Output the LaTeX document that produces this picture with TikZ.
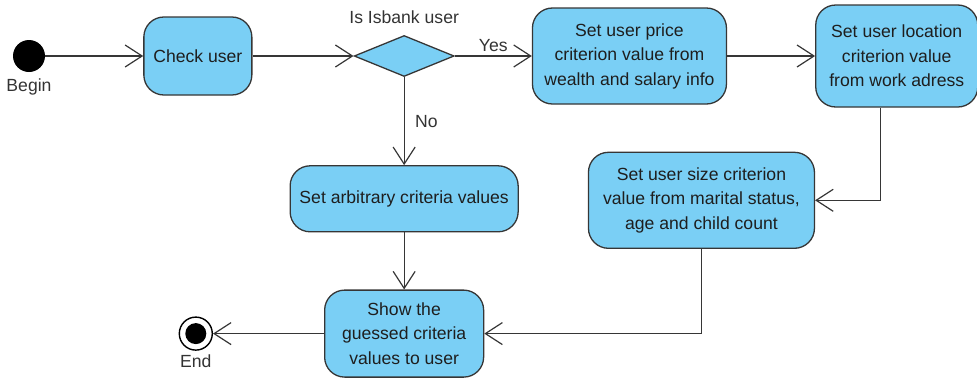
\documentclass[tikz,border=0pt]{standalone}
\usepackage{fontspec}
\setmainfont{Liberation Sans}
\usepackage{xcolor}
\usepackage{tikz}
\usetikzlibrary{arrows.meta,positioning,shapes.geometric}
\definecolor{ActFill}{HTML}{7ACFF5}
\definecolor{Border}{HTML}{363636}
\definecolor{Ink}{HTML}{1E1E1E}
\definecolor{InkLabel}{HTML}{333333}
\newcommand{\actfont}{\fontsize{17.6}{24.5}\selectfont}
\tikzset{
  activity/.style={draw=Border,fill=ActFill,rounded corners=20pt,line width=1.3pt,align=center,inner sep=2pt,font=\actfont,text=Ink},
  decision/.style={draw=Border,fill=ActFill,diamond,aspect=2.4,minimum width=100pt,minimum height=41pt,inner sep=0pt,line width=1.3pt},
  startdot/.style={circle,fill=black,minimum size=32pt,inner sep=0pt},
  enddot/.style={circle,draw=black,fill=white,line width=1.4pt,minimum size=33pt,inner sep=0pt,
    path picture={\fill[black] (path picture bounding box.center) circle (10.5pt);}},
  tag/.style={font=\actfont,text=InkLabel},
  line/.style={-{Straight Barb[length=17pt,width=22pt]},line width=1.2pt,color=Border}
}

\begin{document}
\begin{tikzpicture}
  \useasboundingbox (0,0) rectangle (977pt,-378pt);
  \node[startdot,label={[tag,label distance=3pt]below:Begin}] (begin) at (29pt,-56pt) {};
  \node[activity,right=98pt of begin,minimum width=108pt,minimum height=78pt] (check) {Check user};
  \node[decision,right=101pt of check,label={[tag,label distance=8pt]above:Is Isbank user}] (isbank) {};
  \node[activity,right=77pt of isbank,minimum width=194pt,minimum height=96pt] (price) {Set user price\\criterion value from\\wealth and salary info};
  \node[activity,right=88pt of price,minimum width=162pt,minimum height=102pt] (location) {Set user location\\criterion value\\from work adress};
  \node[activity,below left=44pt and 0pt of location.south west,minimum width=226pt,minimum height=96pt] (size) {Set user size criterion\\value from marital status,\\age and child count};
  \node[activity,below=88pt of isbank,minimum width=228pt,minimum height=66pt] (arbitrary) {Set arbitrary criteria values};
  \node[activity,below=57pt of arbitrary,minimum width=159pt,minimum height=87pt] (show) {Show the\\guessed criteria\\values to user};
  \node[enddot,left=111pt of show,label={[tag,label distance=0pt]below:End}] (end) {};
  \draw[line] (begin) -- (check);
  \draw[line] (check) -- (isbank.west);
  \draw[line] (isbank.east) -- node[tag,above]{Yes} (price.west);
  \draw[line] (price) -- (location);
  \draw[line] ([xshift=-16pt]location.south) |- (size.east);
  \draw[line] (size.south) |- (show.east);
  \draw[line] (isbank.south) -- node[tag,right=7pt]{No} (arbitrary.north);
  \draw[line] (arbitrary) -- (show);
  \draw[line] (show) -- (end);
\end{tikzpicture}
\end{document}
